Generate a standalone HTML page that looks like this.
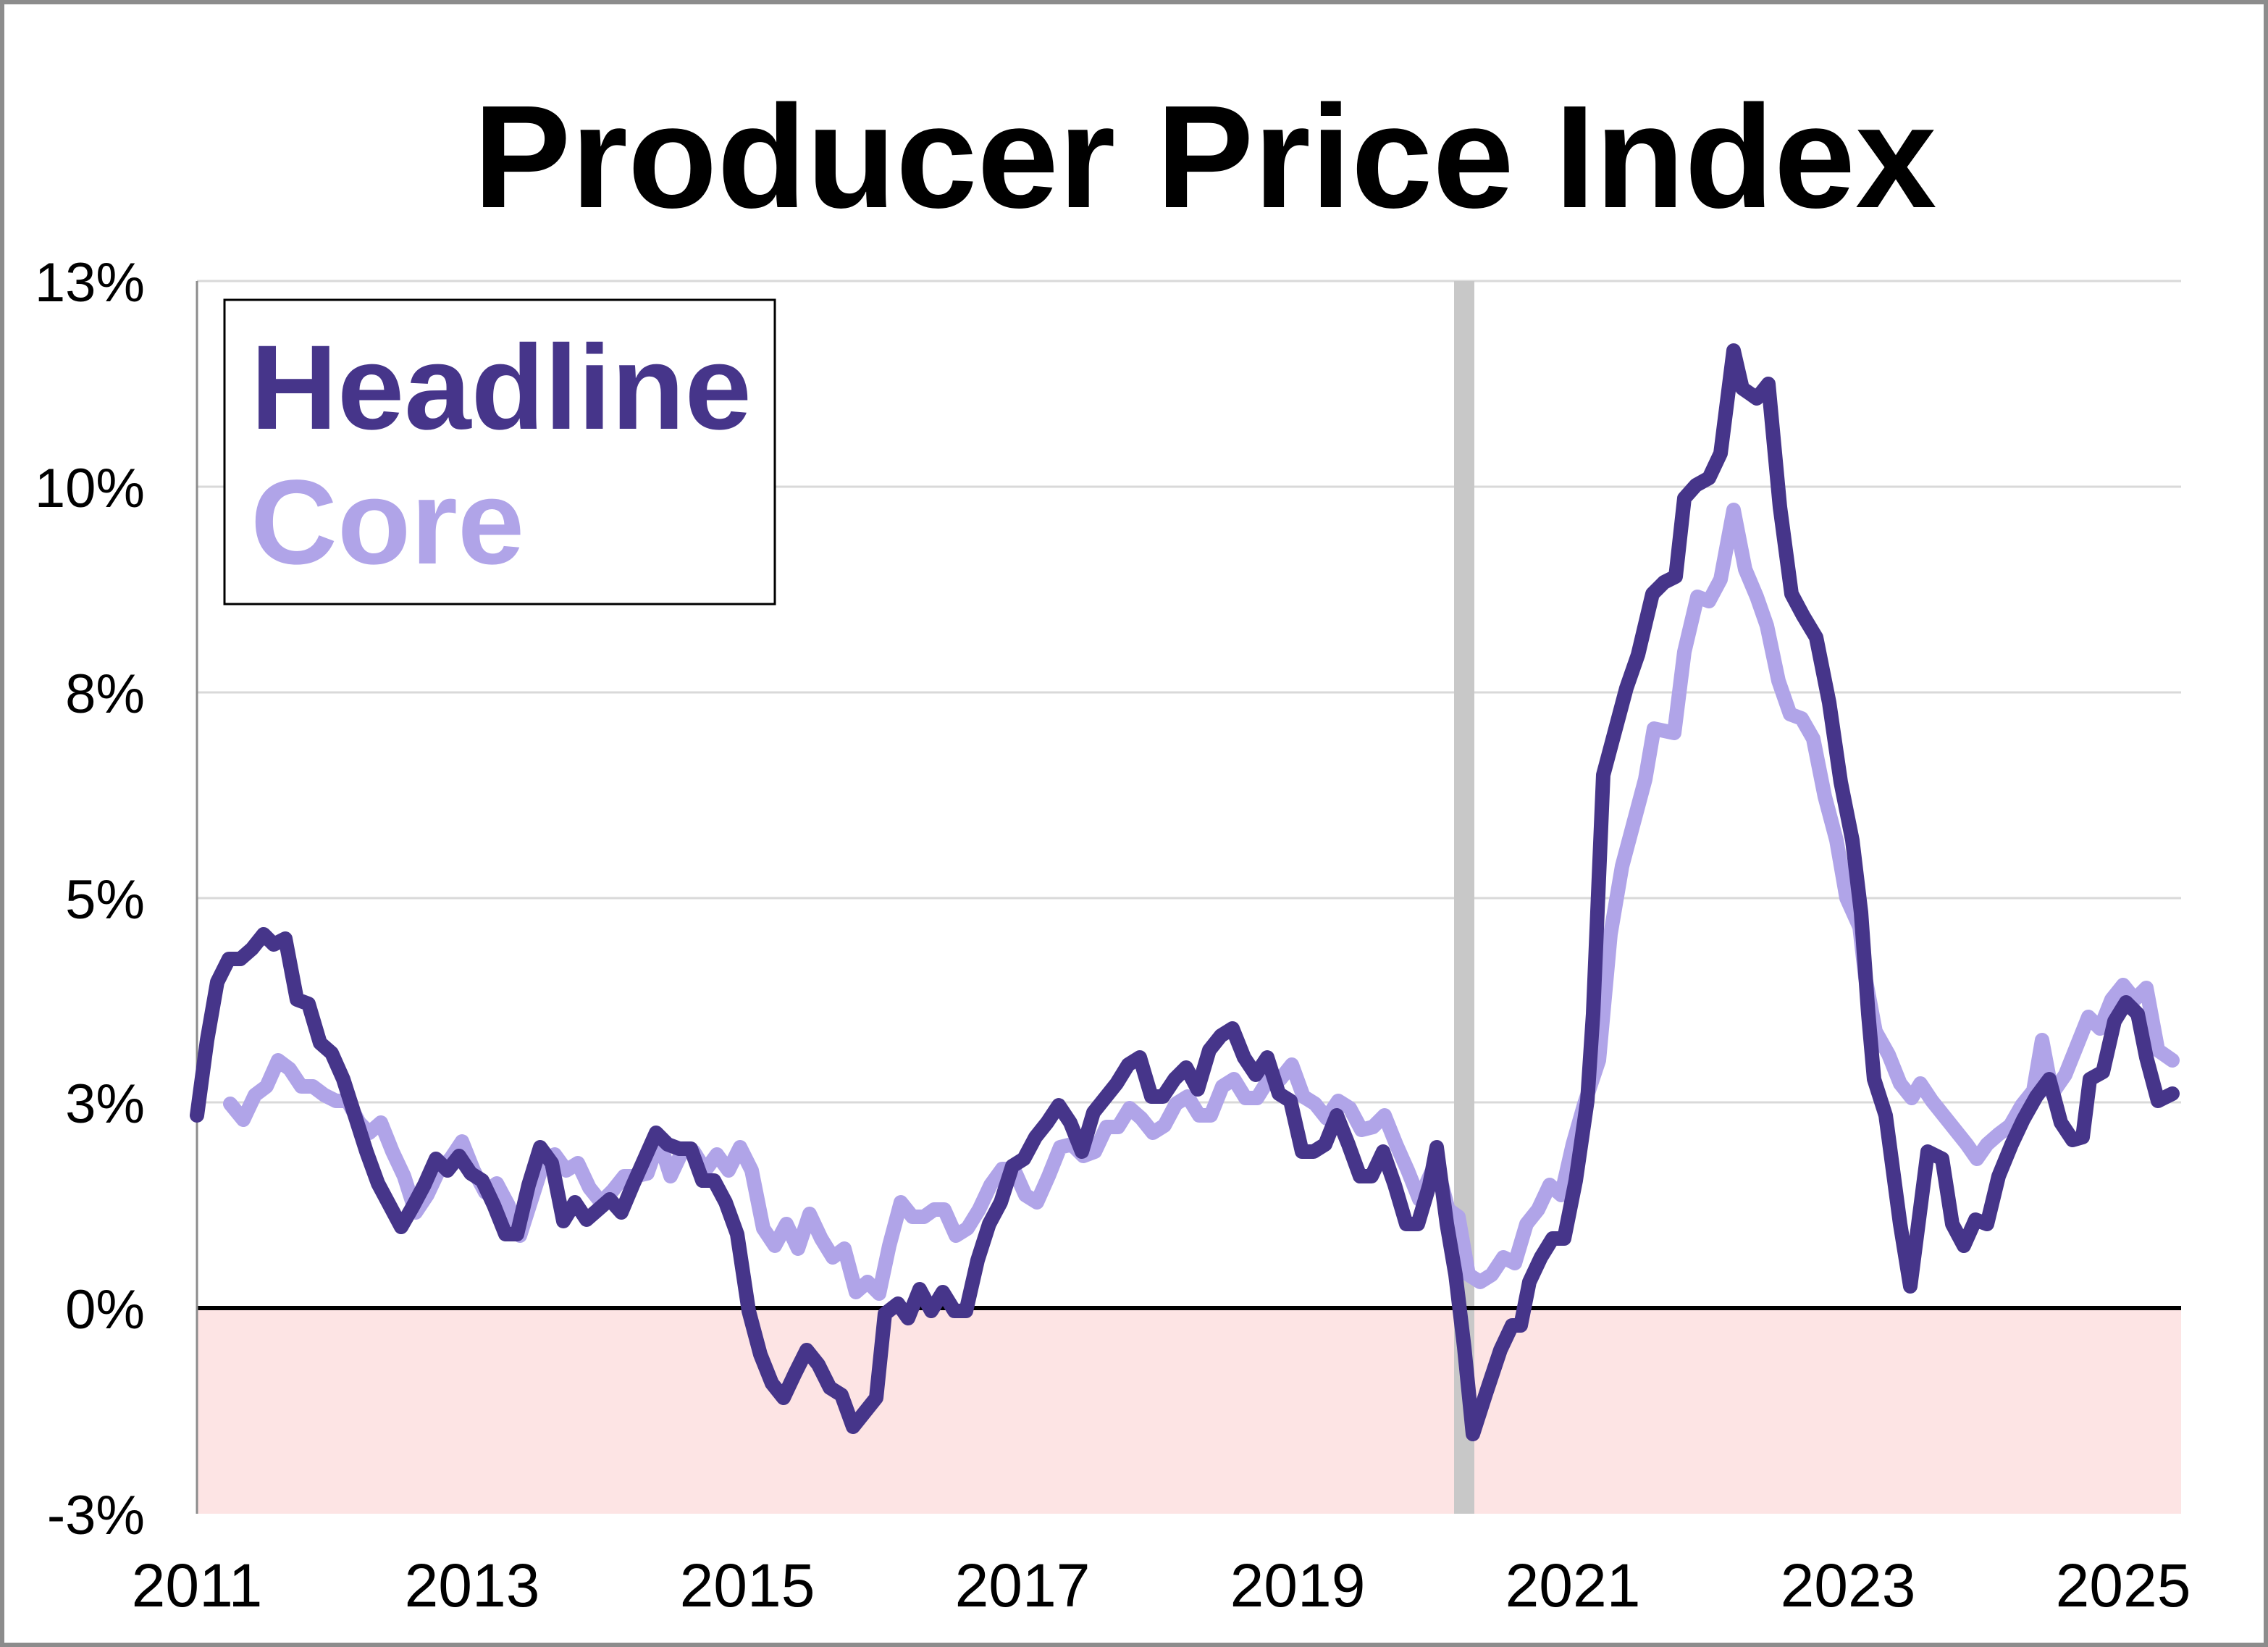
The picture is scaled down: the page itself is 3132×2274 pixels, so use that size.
<!DOCTYPE html>
<html><head><meta charset="utf-8"><style>
html,body{margin:0;padding:0;background:#fff}
svg{display:block}
text{font-family:"Liberation Sans",Arial,sans-serif}
</style></head><body>
<svg width="3132" height="2274" viewBox="0 0 1566 1137" xmlns="http://www.w3.org/2000/svg">
<rect x="0" y="0" width="1566" height="1137" fill="#fff"/>
<rect x="1.5" y="1.5" width="1563" height="1134" fill="none" stroke="#8c8c8c" stroke-width="3"/>
<text x="832" y="143" font-size="101" font-weight="bold" text-anchor="middle">Producer Price Index</text>
<rect x="136" y="903" width="1370" height="142" fill="#fde4e4"/>
<g stroke="#d9d9d9" stroke-width="1.5">
<line x1="136" y1="194" x2="1506" y2="194"/>
<line x1="136" y1="336" x2="1506" y2="336"/>
<line x1="136" y1="478" x2="1506" y2="478"/>
<line x1="136" y1="620" x2="1506" y2="620"/>
<line x1="136" y1="761" x2="1506" y2="761"/>
</g>
<rect x="1004" y="194" width="14" height="851" fill="#c8c8c8"/>
<line x1="136" y1="903" x2="1506" y2="903" stroke="#000" stroke-width="3"/>
<line x1="136" y1="194" x2="136" y2="1045" stroke="#8c8c8c" stroke-width="1.5"/>
<g font-size="38" text-anchor="end">
<text x="100" y="208">13%</text>
<text x="100" y="350">10%</text>
<text x="100" y="492">8%</text>
<text x="100" y="634">5%</text>
<text x="100" y="775">3%</text>
<text x="100" y="917">0%</text>
<text x="100" y="1059">-3%</text>
</g>
<g font-size="42" text-anchor="middle">
<text x="136" y="1109">2011</text>
<text x="326" y="1109">2013</text>
<text x="516" y="1109">2015</text>
<text x="706" y="1109">2017</text>
<text x="896" y="1109">2019</text>
<text x="1086" y="1109">2021</text>
<text x="1276" y="1109">2023</text>
<text x="1466" y="1109">2025</text>
</g>
<polyline fill="none" stroke="#b0a4e8" stroke-width="10" stroke-linejoin="round" stroke-linecap="round" points="159,762 168,773 176,756 184,750 192,732 200,738 208,750 216,750 224,756 232,760 240,760 248,775 255,782 263,775 271,795 279,812 287,837 295,825 303,808 311,800 319,788 327,808 335,823 343,817 351,832 359,853 367,828 375,803 383,797 391,808 399,803 407,820 415,830 423,822 431,812 439,812 447,810 455,787 463,812 471,795 479,795 487,808 495,797 503,808 511,792 519,808 527,848 535,860 543,845 551,862 559,838 567,855 575,868 583,862 591,892 599,885 607,893 614,860 622,830 630,840 638,840 645,835 652,835 660,853 668,848 676,835 684,818 692,807 700,807 708,825 716,830 724,812 732,792 740,790 748,798 756,795 764,778 772,778 780,765 788,772 796,782 804,777 812,762 820,757 828,770 836,770 844,750 852,745 860,758 868,758 876,745 884,745 892,735 900,757 908,762 916,772 924,760 932,765 940,780 948,778 956,770 964,790 972,808 980,828 988,810 993,808 1000,835 1007,840 1014,880 1022,885 1030,880 1038,868 1046,872 1054,845 1062,835 1070,818 1078,825 1086,790 1094,762 1104,732 1112,645 1120,598 1128,568 1136,538 1142,503 1156,506 1163,450 1172,412 1180,415 1188,400 1197,352 1205,393 1213,412 1220,432 1228,470 1236,493 1244,496 1252,510 1260,550 1268,580 1275,620 1284,640 1288,675 1295,712 1304,728 1312,748 1320,758 1326,748 1334,760 1342,770 1350,780 1358,790 1365,800 1372,790 1380,783 1388,777 1396,763 1404,753 1410,718 1417,755 1426,742 1434,722 1442,702 1450,710 1458,690 1466,680 1474,690 1482,682 1490,725 1500,732"/>
<polyline fill="none" stroke="#46358a" stroke-width="10" stroke-linejoin="round" stroke-linecap="round" points="136,770 143,718 150,678 158,662 166,662 174,655 182,645 189,652 197,648 205,690 213,693 221,720 229,727 237,745 245,770 253,795 261,817 269,832 277,847 285,833 293,818 301,800 309,808 317,798 325,810 333,815 341,832 349,852 357,852 365,818 373,792 381,803 389,843 397,830 405,842 413,835 421,828 429,837 437,818 445,800 453,782 461,790 469,793 477,793 485,815 493,815 501,830 509,852 517,905 525,935 533,955 541,965 549,948 557,932 565,942 573,958 581,963 589,985 597,975 605,965 611,907 620,900 627,910 635,890 643,905 651,892 659,905 667,905 675,870 683,845 691,830 699,805 707,800 715,785 723,775 731,763 739,775 747,795 755,768 763,758 771,748 779,735 787,730 795,757 803,757 811,745 819,737 827,752 835,725 843,715 851,710 859,730 867,742 875,730 883,755 891,760 899,795 907,795 915,790 923,770 931,790 939,812 947,812 955,795 963,818 971,845 979,845 987,818 992,792 999,845 1005,880 1011,930 1017,990 1026,962 1036,932 1044,915 1050,915 1056,885 1064,868 1072,855 1080,855 1088,815 1096,760 1100,700 1107,535 1115,505 1123,475 1131,452 1141,410 1149,402 1157,398 1163,344 1171,335 1180,330 1188,313 1197,242 1203,268 1213,275 1221,265 1229,350 1237,410 1245,425 1254,440 1263,485 1271,540 1279,580 1285,630 1290,700 1294,745 1302,770 1312,845 1319,888 1331,795 1341,800 1348,845 1356,860 1364,842 1372,845 1380,812 1389,790 1397,773 1406,757 1415,745 1423,775 1431,787 1438,785 1443,745 1452,740 1460,705 1468,692 1476,700 1482,730 1490,760 1500,755"/>
<rect x="155" y="207" width="380" height="210" fill="#fff" stroke="#000" stroke-width="1.5"/>
<text x="173" y="296" font-size="83" font-weight="bold" fill="#46358a">Headline</text>
<text x="173" y="389" font-size="83" font-weight="bold" fill="#b0a4e8">Core</text>
</svg>
</body></html>
